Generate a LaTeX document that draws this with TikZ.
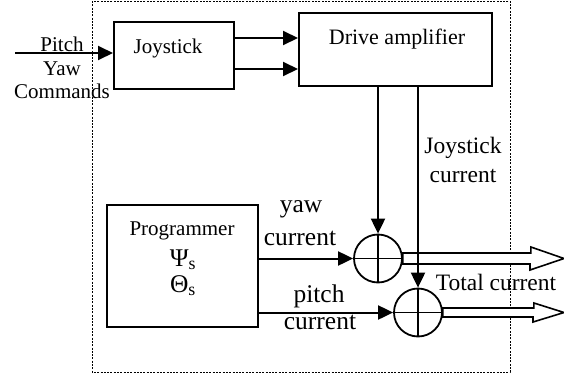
\documentclass[tikz,border=0pt]{standalone}
\usepackage{fontspec}
\setmainfont{Liberation Serif}
\usetikzlibrary{arrows.meta,calc}
\tikzset{
  blk/.style={draw, line width=2pt, inner sep=0pt},
  lbl/.style={inner sep=0pt, anchor=base},
  sumnode/.style={draw, circle, line width=1.8pt, minimum size=48pt, inner sep=0pt},
  wire/.style={line width=2pt},
  arr/.style={wire, -{Triangle[length=15pt,width=14pt]}},
  hollow/.style={draw, line width=1.6pt, fill=white},
  frame/.style={line width=0.8pt, dash pattern=on 2pt off 1.3pt},
  fa/.style={font=\fontsize{21}{24}\selectfont},
  fb/.style={font=\fontsize{23.5}{28}\selectfont},
  fc/.style={font=\fontsize{25.5}{30}\selectfont}
}
\begin{document}
\begin{tikzpicture}[x=1pt,y=-1pt]
\useasboundingbox (0,0) rectangle (564,378);

% enclosing dotted frame
\draw[frame] (92,1) rectangle (510,372);

% blocks
\node[blk, minimum width=120pt, minimum height=67pt] (joy) at (174,55.5) {};
\node[lbl, fa] (joyt) at (168,53) {Joystick};
\node[blk, minimum width=193pt, minimum height=73pt] (drv) at (395.5,49.5) {};
\node[lbl, font=\fontsize{22}{25}\selectfont] (drvt) at (397,44.5) {Drive amplifier};
\node[blk, minimum width=151pt, minimum height=122pt] (prg) at (182.5,266) {};
\node[lbl, fa] (prgt1) at (182,235) {Programmer};
\node[lbl, fc] (prgt2) at (183,266) {Ψ\textsubscript{s}};
\node[lbl, fc] (prgt3) at (183,292) {Θ\textsubscript{s}};

% summing junctions
\node[sumnode] (s1) at (378,258.5) {};
\node[sumnode] (s2) at (418,312.5) {};
\foreach \s in {s1,s2}{
  \draw[line width=1.8pt] (\s.north) -- (\s.south) (\s.west) -- (\s.east);
}

% hollow output arrows
\path[hollow] ($(s1.east)+(0,-5.5)$) -- ++(128,0) -- ++(0,-6) -- (564,258.5) -- ++(-34,11.5) -- ++(0,-6) -- ($(s1.east)+(0,5.5)$) -- cycle;
\path[hollow] ($(s2.east)+(0,-4.5)$) -- ++(91,0) -- ++(0,-5) -- (564,312.5) -- ++(-31,9.5) -- ++(0,-5) -- ($(s2.east)+(0,4.5)$) -- cycle;
\node[lbl, fb] (tct) at (496,290) {Total current};

% command input
\coordinate (cmd) at (15,53);
\draw[arr] (cmd) -- (cmd -| joy.west);
\node[lbl, fa] (cmd1) at (62,51.5) {Pitch};
\node[lbl, fa] (cmd2) at (62,75) {Yaw};
\node[lbl, fa] (cmd3) at (62,98) {Commands};

% joystick to drive amplifier
\draw[arr] (joy.east |- 0,38) -- (drv.west |- 0,38);
\draw[arr] (joy.east |- 0,69) -- (drv.west |- 0,69);

% drive amplifier to summing junctions
\draw[arr] (drv.south -| s1) -- (s1.north);
\draw[arr] (drv.south -| s2) -- (s2.north);
\node[lbl, fb] (jct1) at (463,153) {Joystick};
\node[lbl, fb] (jct2) at (463,182) {current};

% programmer to summing junctions
\draw[arr] (prg.east |- s1) -- (s1.west);
\draw[arr] (prg.east |- s2) -- (s2.west);
\node[lbl, fc] (ywt1) at (301,212) {yaw};
\node[lbl, fc] (ywt2) at (300,245) {current};
\node[lbl, fc] (pct1) at (319,302) {pitch};
\node[lbl, fc] (pct2) at (320,329) {current};
\end{tikzpicture}
\end{document}
